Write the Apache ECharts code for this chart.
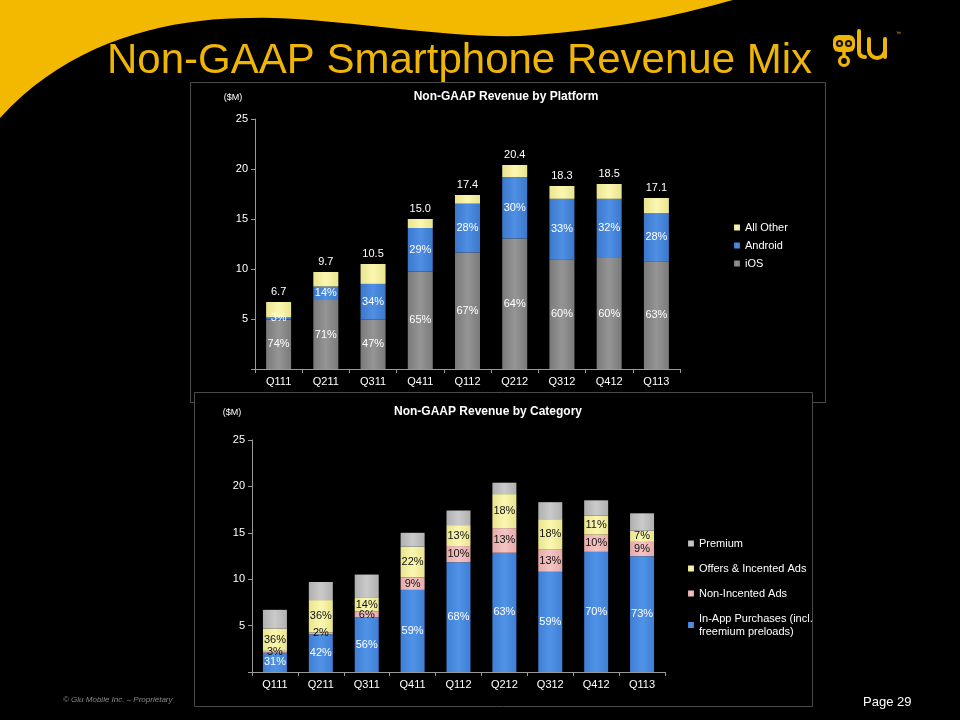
<!DOCTYPE html>
<html>
<head>
<meta charset="utf-8">
<script src="https://cdn.jsdelivr.net/npm/echarts@6/dist/echarts.min.js"></script>
<style>
html,body{margin:0;padding:0;background:#000;}
#chart{width:960px;height:720px;}
</style>
</head>
<body>
<div id="chart"></div>
<script>
// ---- data ----
var categories = ['Q111','Q211','Q311','Q411','Q112','Q212','Q312','Q412','Q113'];
var totals = [6.7, 9.7, 10.5, 15.0, 17.4, 20.4, 18.3, 18.5, 17.1];
var yTicks = ['5','10','15','20','25'];

// platform ($M)
var iosRev     = [4.96, 6.89, 4.94, 9.75, 11.66, 13.06, 10.98, 11.10, 10.77];
var androidRev = [0.20, 1.36, 3.57, 4.35, 4.87, 6.12, 6.04, 5.92, 4.79];
var otherRev   = [1.54, 1.45, 1.99, 0.90, 0.87, 1.22, 1.28, 1.48, 1.54];
var iosPct     = ['74%','71%','47%','65%','67%','64%','60%','60%','63%'];
var androidPct = ['3%','14%','34%','29%','28%','30%','33%','32%','28%'];

// category ($M)
var iapRev     = [2.08, 4.07, 5.88, 8.85, 11.83, 12.85, 10.80, 12.95, 12.48];
var nonIncRev  = [0.20, 0.19, 0.63, 1.35, 1.74, 2.65, 2.38, 1.85, 1.54];
var offersRev  = [2.41, 3.49, 1.47, 3.30, 2.26, 3.67, 3.29, 2.04, 1.20];
var premiumRev = [2.01, 1.95, 2.52, 1.50, 1.57, 1.23, 1.83, 1.66, 1.88];
var iapPct     = ['31%','42%','56%','59%','68%','63%','59%','70%','73%'];
var nonIncPct  = ['3%','2%','6%','9%','10%','13%','13%','10%','9%'];
var offersPct  = ['36%','36%','14%','22%','13%','18%','18%','11%','7%'];

var FONT = '"Liberation Sans", Arial, sans-serif';
var YEL = '#efb506';

function grad(c1, c2) {
  return {type:'linear', x:0, y:0, x2:1, y2:0, colorStops:[
    {offset:0, color:c1},{offset:0.5, color:c2},{offset:1, color:c1}]};
}
function pctLabel(arr, color) {
  return {show:true, position:'inside', color:color, fontSize:11, fontFamily:FONT,
    formatter:function(p){return arr[p.dataIndex];}};
}
// decorative swoosh outline sampled from cubic curves
function cubicPts(p0, c1, c2, p1, n) {
  var out = [];
  for (var i = 1; i <= n; i++) {
    var t = i / n, u = 1 - t;
    out.push([u*u*u*p0[0] + 3*u*u*t*c1[0] + 3*u*t*t*c2[0] + t*t*t*p1[0],
              u*u*u*p0[1] + 3*u*u*t*c1[1] + 3*u*t*t*c2[1] + t*t*t*p1[1]]);
  }
  return out;
}
var swoosh = [[0,0],[733,0]]
  .concat(cubicPts([733,0],[690,12],[620,30],[520,36],20))
  .concat(cubicPts([520,36],[430,38],[330,16],[250,18],20))
  .concat(cubicPts([250,18],[170,18],[70,40],[0,118],20));

var chart = echarts.init(document.getElementById('chart'), null, {renderer:'canvas'});

var axisCommonY = function(gi){
  return {type:'value', gridIndex:gi, min:0, max:25, interval:5, z:3,
    axisLine:{show:true, lineStyle:{color:'#9a9a9a', width:1}},
    axisTick:{show:true, length:4, lineStyle:{color:'#9a9a9a'}},
    splitLine:{show:false},
    axisLabel:{color:'#fff', fontSize:11, fontFamily:FONT, margin:7,
      formatter:function(v){ var s = String(v); return yTicks.indexOf(s) >= 0 ? s : ''; }}
  };
};
var axisCommonX = function(gi){
  return {type:'category', gridIndex:gi, data:categories, z:3,
    axisLine:{show:true, lineStyle:{color:'#9a9a9a', width:1}},
    axisTick:{show:true, length:4, alignWithLabel:false, lineStyle:{color:'#9a9a9a'}},
    axisLabel:{color:'#fff', fontSize:11, fontFamily:FONT, margin:7}
  };
};

function txt(t, x, y, font, fill, align) {
  return {type:'text', z:5, silent:true,
    style:{text:t, x:x, y:y, fill:fill, font:font,
      textAlign:align, align:align, textVerticalAlign:'middle', verticalAlign:'middle'}};
}

var option = {
  backgroundColor:'#000',
  animation:false,
  grid:[
    {left:255, right:280, top:119, bottom:351},
    {left:252, right:295, top:440, bottom:48}
  ],
  xAxis:[axisCommonX(0), axisCommonX(1)],
  yAxis:[axisCommonY(0), axisCommonY(1)],
  legend:[
    {orient:'vertical', left:729, top:217, itemWidth:6, itemHeight:6, itemGap:7, icon:'rect',
      data:['All Other','Android','iOS'],
      textStyle:{color:'#fff', fontSize:11, fontFamily:FONT, lineHeight:11}},
    {orient:'vertical', left:683, top:532, itemWidth:6, itemHeight:6, itemGap:12, icon:'rect',
      data:['Premium','Offers & Incented Ads','Non-Incented Ads','In-App Purchases (incl.\nfreemium preloads)'],
      textStyle:{color:'#fff', fontSize:11, fontFamily:FONT, lineHeight:13}}
  ],
  series:[
    {name:'iOS', type:'bar', stack:'p', xAxisIndex:0, yAxisIndex:0, barWidth:25, data:iosRev,
      itemStyle:{color:grad('#7a7a7a','#959595')}, label:pctLabel(iosPct,'#fff')},
    {name:'Android', type:'bar', stack:'p', xAxisIndex:0, yAxisIndex:0, barWidth:25, data:androidRev,
      itemStyle:{color:grad('#3b78cc','#4f8fe4')}, label:pctLabel(androidPct,'#fff')},
    {name:'All Other', type:'bar', stack:'p', xAxisIndex:0, yAxisIndex:0, barWidth:25, data:otherRev,
      itemStyle:{color:grad('#e9e48f','#fbf7b0')},
      label:{show:true, position:'top', distance:5, color:'#fff', fontSize:11, fontFamily:FONT,
        formatter:function(p){return totals[p.dataIndex].toFixed(1);}}},

    {name:'In-App Purchases (incl.\nfreemium preloads)', type:'bar', stack:'c', xAxisIndex:1, yAxisIndex:1, barWidth:24, data:iapRev,
      itemStyle:{color:grad('#3f7fd6','#5093e6')}, label:pctLabel(iapPct,'#fff')},
    {name:'Non-Incented Ads', type:'bar', stack:'c', xAxisIndex:1, yAxisIndex:1, barWidth:24, data:nonIncRev,
      itemStyle:{color:grad('#e6aaaa','#f6c4c4')}, label:pctLabel(nonIncPct,'#111')},
    {name:'Offers & Incented Ads', type:'bar', stack:'c', xAxisIndex:1, yAxisIndex:1, barWidth:24, data:offersRev,
      itemStyle:{color:grad('#e9e48f','#fbf7b0')}, label:pctLabel(offersPct,'#111')},
    {name:'Premium', type:'bar', stack:'c', xAxisIndex:1, yAxisIndex:1, barWidth:24, data:premiumRev,
      itemStyle:{color:grad('#b0b0b0','#cacaca')}}
  ],
  graphic:[
    {type:'polygon', z:0, silent:true, shape:{points:swoosh}, style:{fill:'#f3b800'}},
    {type:'rect', z:0, silent:true, shape:{x:190.5, y:82.5, width:635, height:320},
      style:{fill:'#000', stroke:'#4a4a4a', lineWidth:1}},
    {type:'rect', z:1, silent:true, shape:{x:194.5, y:392.5, width:618, height:314},
      style:{fill:'#000', stroke:'#4a4a4a', lineWidth:1}},
    txt('Non-GAAP Smartphone Revenue Mix', 107, 61, '42px "Liberation Sans", Arial, sans-serif', YEL, 'left'),
    txt('Non-GAAP Revenue by Platform', 506, 97, 'bold 12px "Liberation Sans", Arial, sans-serif', '#fff', 'center'),
    txt('Non-GAAP Revenue by Category', 488, 412, 'bold 12px "Liberation Sans", Arial, sans-serif', '#fff', 'center'),
    txt('($M)', 233, 98, '9px "Liberation Sans", Arial, sans-serif', '#fff', 'center'),
    txt('($M)', 232, 413, '9px "Liberation Sans", Arial, sans-serif', '#fff', 'center'),
    txt('\u00a9 Glu Mobile Inc. \u2013 Proprietary', 63, 700, 'italic 8px "Liberation Sans", Arial, sans-serif', '#8a8a8a', 'left'),
    txt('Page 29', 863, 702, '13px "Liberation Sans", Arial, sans-serif', '#fff', 'left'),
    // glu logo
    {type:'rect', z:5, silent:true, shape:{x:833, y:35, width:22, height:17, r:6}, style:{fill:YEL}},
    {type:'circle', z:6, silent:true, shape:{cx:839.5, cy:43.5, r:3.6}, style:{fill:'#1a1400'}},
    {type:'circle', z:6, silent:true, shape:{cx:848.5, cy:43.5, r:3.6}, style:{fill:'#1a1400'}},
    {type:'circle', z:7, silent:true, shape:{cx:839.5, cy:43.5, r:1.5}, style:{fill:YEL}},
    {type:'circle', z:7, silent:true, shape:{cx:848.5, cy:43.5, r:1.5}, style:{fill:YEL}},
    {type:'line', z:5, silent:true, shape:{x1:844, y1:51, x2:844, y2:56}, style:{stroke:YEL, lineWidth:3.5}},
    {type:'circle', z:5, silent:true, shape:{cx:844, cy:61, r:4.5}, style:{fill:'none', stroke:YEL, lineWidth:3.2}},
    {type:'line', z:5, silent:true, shape:{x1:859, y1:31, x2:859, y2:51}, style:{stroke:YEL, lineWidth:4, lineCap:'round'}},
    {type:'bezierCurve', z:5, silent:true, shape:{x1:859, y1:51, x2:865, y2:57, cpx1:859, cpy1:57},
      style:{fill:'none', stroke:YEL, lineWidth:4, lineCap:'round'}},
    {type:'line', z:5, silent:true, shape:{x1:869, y1:39, x2:869, y2:50}, style:{stroke:YEL, lineWidth:4, lineCap:'round'}},
    {type:'arc', z:5, silent:true, shape:{cx:877, cy:50, r:8, startAngle:0, endAngle:Math.PI, clockwise:true},
      style:{fill:'none', stroke:YEL, lineWidth:4}},
    {type:'line', z:5, silent:true, shape:{x1:885, y1:39, x2:885, y2:57}, style:{stroke:YEL, lineWidth:4, lineCap:'round'}},
    txt('\u2122', 896, 34, '5px "Liberation Sans", Arial, sans-serif', YEL, 'left')
  ]
};
chart.setOption(option);
</script>
</body>
</html>
